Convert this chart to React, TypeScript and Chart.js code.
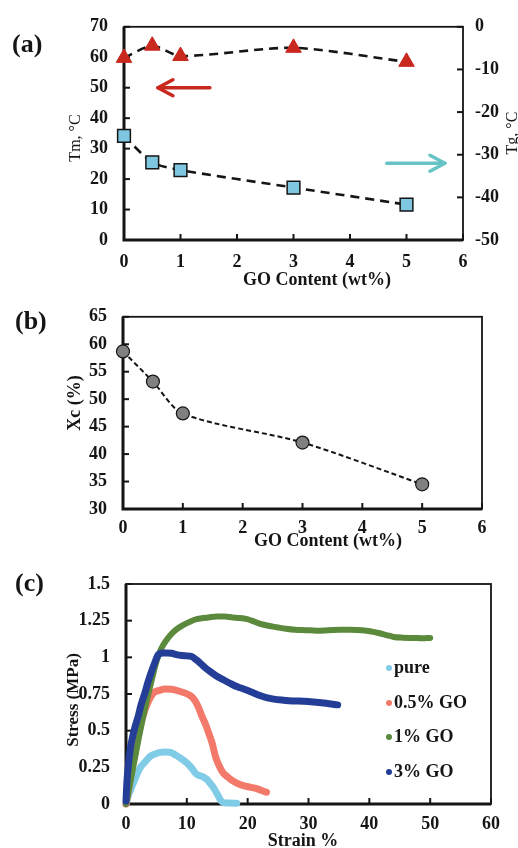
import React, { useEffect, useRef } from "react";
import { Chart, registerables } from "chart.js";

Chart.register(...registerables);

// ---------------- data ----------------
const goContent = [0, 0.5, 1, 3, 5];
const tmValues = [59.8, 63.8, 60.4, 63.1, 58.5];
const tgValues = [-25.6, -31.8, -33.6, -37.7, -41.7];
const xcValues = [58.7, 53.2, 47.4, 42.1, 34.5];

const pureStrain = [0, 0.5, 1.2, 2.3, 3.2, 4.0, 5.0, 5.6, 6.5, 7.3, 8.0, 8.9, 9.7, 10.3, 11.0, 11.4, 12.0, 12.7, 13.3, 13.8, 14.4, 14.9, 15.3, 15.7, 16.2, 17.0, 18.2];
const pureStress = [0, 0.07, 0.143, 0.245, 0.29, 0.325, 0.345, 0.352, 0.355, 0.352, 0.338, 0.314, 0.29, 0.268, 0.235, 0.211, 0.195, 0.184, 0.168, 0.143, 0.11, 0.075, 0.045, 0.018, 0.008, 0.006, 0.005];

const go05Strain = [0, 0.3, 0.7, 1.2, 1.8, 2.4, 3.1, 3.8, 4.5, 5.5, 6.5, 7.5, 8.3, 9.3, 10.3, 10.9, 11.4, 12.0, 12.5, 13.1, 13.6, 14.2, 14.7, 15.1, 15.5, 16.0, 16.6, 17.3, 18.2, 19.3, 20.4, 21.5, 22.3, 23.1];
const go05Stress = [0, 0.07, 0.17, 0.29, 0.42, 0.54, 0.64, 0.71, 0.757, 0.775, 0.784, 0.782, 0.775, 0.762, 0.745, 0.728, 0.7, 0.65, 0.597, 0.54, 0.484, 0.41, 0.325, 0.28, 0.245, 0.21, 0.188, 0.165, 0.143, 0.125, 0.115, 0.105, 0.092, 0.08];

const go1Strain = [0, 0.4, 0.9, 1.5, 2.1, 2.8, 3.5, 4.2, 5.0, 5.8, 6.7, 7.6, 8.6, 9.6, 10.6, 11.6, 12.7, 13.8, 15.0, 16.2, 17.5, 18.7, 19.9, 21.0, 22.1, 23.4, 24.8, 26.3, 27.8, 29.5, 31.4, 33.3, 35.2, 37.0, 38.8, 40.3, 41.5, 42.8, 44.0, 45.5, 47.3, 48.8, 50.0];
const go1Stress = [0, 0.08, 0.19, 0.32, 0.45, 0.59, 0.72, 0.84, 0.97, 1.06, 1.12, 1.165, 1.2, 1.225, 1.245, 1.26, 1.268, 1.274, 1.278, 1.278, 1.272, 1.268, 1.26, 1.245, 1.228, 1.215, 1.205, 1.195, 1.188, 1.185, 1.182, 1.185, 1.188, 1.188, 1.184, 1.176, 1.166, 1.152, 1.139, 1.134, 1.132, 1.13, 1.132];

const go3Strain = [0, 0.11, 0.22, 0.38, 0.55, 0.77, 1.1, 1.5, 2.0, 2.5, 3.1, 3.6, 4.2, 4.7, 5.3, 6.0, 6.7, 7.5, 8.3, 9.2, 10.0, 10.8, 11.5, 12.2, 13.0, 13.8, 14.8, 16.0, 17.0, 17.7, 18.8, 19.9, 21.0, 22.0, 23.1, 24.3, 25.9, 27.5, 29.2, 30.8, 32.5, 34.0, 34.8];
const go3Stress = [0.02, 0.12, 0.19, 0.256, 0.325, 0.393, 0.46, 0.529, 0.597, 0.68, 0.757, 0.83, 0.904, 0.96, 1.018, 1.03, 1.03, 1.028, 1.018, 1.012, 1.01, 1.006, 0.985, 0.961, 0.93, 0.904, 0.875, 0.847, 0.825, 0.81, 0.792, 0.775, 0.757, 0.74, 0.725, 0.715, 0.708, 0.703, 0.7, 0.695, 0.688, 0.68, 0.676];

const seriesLabels = ["pure", "0.5% GO", "1% GO", "3% GO"];
const stressTickLabels = ["0", "0.25", "0.5", "0.75", "1", "1.25", "1.5"];

// arrows in panel (a), in data units
const tmArrow = { from: 1.52, to: 0.6, y: 50, axis: "y" };
const tgArrow = { from: 4.65, to: 5.68, y: -32, axis: "y2" };

// ---------------- styling helpers ----------------
const SERIF = "'Liberation Serif', 'Times New Roman', serif";
const INK = "#151515";
const tickFont = { family: SERIF, size: 18, weight: "bold" as const };

type TextSpec = {
  text: string;
  x: number;
  y: number;
  size: number;
  bold?: boolean;
  rotate?: boolean;
  align?: CanvasTextAlign;
};

type ArrowSpec = { from: number; to: number; y: number; axis: string; color: string };

function makeDecor(cfg: {
  texts: TextSpec[];
  yAxes: { id: string; side: "left" | "right" }[];
  arrows?: ArrowSpec[];
  legend?: { x: number; ys: number[] };
}) {
  return {
    id: "decor",
    beforeDatasetsDraw(chart: any) {
      const { ctx, chartArea: a } = chart;
      ctx.save();
      ctx.strokeStyle = INK;
      ctx.lineWidth = 1.8;
      ctx.strokeRect(a.left, a.top, a.right - a.left, a.bottom - a.top);
      ctx.lineWidth = 3;
      ctx.beginPath();
      ctx.moveTo(a.left, a.top);
      ctx.lineTo(a.left, a.bottom);
      ctx.lineTo(a.right, a.bottom);
      ctx.stroke();
      ctx.lineWidth = 2;
      const xs = chart.scales.x;
      xs.ticks.forEach((t: any) => {
        const p = xs.getPixelForValue(t.value);
        ctx.beginPath();
        ctx.moveTo(p, a.bottom);
        ctx.lineTo(p, a.bottom - 6);
        ctx.stroke();
      });
      cfg.yAxes.forEach(({ id, side }) => {
        const s = chart.scales[id];
        s.ticks.forEach((t: any) => {
          const p = s.getPixelForValue(t.value);
          const x0 = side === "left" ? a.left : a.right;
          const x1 = side === "left" ? a.left + 6 : a.right - 6;
          ctx.beginPath();
          ctx.moveTo(x0, p);
          ctx.lineTo(x1, p);
          ctx.stroke();
        });
      });
      ctx.restore();
    },
    afterDraw(chart: any) {
      const { ctx } = chart;
      ctx.save();
      ctx.fillStyle = INK;
      cfg.texts.forEach((t) => {
        ctx.save();
        ctx.font = `${t.bold ? "bold " : ""}${t.size}px ${SERIF}`;
        ctx.textBaseline = "middle";
        ctx.textAlign = t.align || "center";
        ctx.translate(t.x, t.y);
        if (t.rotate) ctx.rotate(-Math.PI / 2);
        ctx.fillText(t.text, 0, 0);
        ctx.restore();
      });
      (cfg.arrows || []).forEach((ar) => {
        const xs = chart.scales.x;
        const ys = chart.scales[ar.axis];
        const x0 = xs.getPixelForValue(ar.from);
        const x1 = xs.getPixelForValue(ar.to);
        const y = ys.getPixelForValue(ar.y);
        const dir = x1 > x0 ? 1 : -1;
        ctx.strokeStyle = ar.color;
        ctx.lineWidth = 3.5;
        ctx.lineCap = "round";
        ctx.lineJoin = "round";
        ctx.beginPath();
        ctx.moveTo(x0, y);
        ctx.lineTo(x1, y);
        ctx.stroke();
        ctx.beginPath();
        ctx.moveTo(x1 - dir * 15, y - 8);
        ctx.lineTo(x1, y);
        ctx.lineTo(x1 - dir * 15, y + 8);
        ctx.stroke();
      });
      if (cfg.legend) {
        const lg = cfg.legend;
        chart.data.datasets.forEach((ds: any, i: number) => {
          const y = lg.ys[i];
          ctx.fillStyle = ds.borderColor;
          ctx.beginPath();
          ctx.arc(lg.x, y, 3, 0, Math.PI * 2);
          ctx.fill();
          ctx.fillStyle = INK;
          ctx.font = `bold 18px ${SERIF}`;
          ctx.textAlign = "left";
          ctx.textBaseline = "middle";
          ctx.fillText(ds.label, lg.x + 5, y);
        });
      }
      ctx.restore();
    },
  };
}

const baseOptions = {
  responsive: false,
  animation: false as const,
  events: [] as any[],
  plugins: { legend: { display: false }, tooltip: { enabled: false } },
};

function axis(extra: any) {
  return {
    type: "linear",
    grid: { display: false, drawTicks: false, tickLength: 0 },
    border: { display: false },
    ...extra,
    ticks: { font: tickFont, color: INK, ...(extra.ticks || {}) },
  };
}

function toXY(xs: number[], ys: number[]) {
  return xs.map((x, i) => ({ x, y: ys[i] }));
}

// ---------------- panel configs ----------------
function configA(): any {
  return {
    type: "line",
    data: {
      datasets: [
        {
          label: "Tm",
          data: toXY(goContent, tmValues),
          yAxisID: "y",
          borderColor: INK,
          borderWidth: 2.6,
          borderDash: [9, 6],
          tension: 0.25,
          pointStyle: "triangle",
          pointRadius: 9,
          pointBackgroundColor: "#c8281e",
          pointBorderColor: "#c8281e",
          pointBorderWidth: 1,
          clip: false,
        },
        {
          label: "Tg",
          data: toXY(goContent, tgValues),
          yAxisID: "y2",
          borderColor: INK,
          borderWidth: 2.6,
          borderDash: [9, 6],
          tension: 0.25,
          pointStyle: "rect",
          pointRadius: 9,
          pointBackgroundColor: "#7fc6e0",
          pointBorderColor: INK,
          pointBorderWidth: 1.5,
          clip: false,
        },
      ],
    },
    options: {
      ...baseOptions,
      layout: { padding: { top: 20, left: 0, right: 0, bottom: 0 } },
      scales: {
        x: axis({ min: 0, max: 6, ticks: { stepSize: 1, padding: 12 }, afterFit: (s: any) => { s.height = 50; } }),
        y: axis({ position: "left", min: 0, max: 70, ticks: { stepSize: 10, padding: 16 }, afterFit: (s: any) => { s.width = 124; } }),
        y2: axis({ position: "right", min: -50, max: 0, ticks: { stepSize: 10, padding: 12 }, afterFit: (s: any) => { s.width = 55; } }),
      },
    },
    plugins: [
      makeDecor({
        yAxes: [{ id: "y", side: "left" }, { id: "y2", side: "right" }],
        texts: [
          { text: "(a)", x: 12, y: 45, size: 26, bold: true, align: "left" },
          { text: "GO Content (wt%)", x: 317, y: 280, size: 18, bold: true },
          { text: "Tm, °C", x: 76, y: 138, size: 16, rotate: true },
          { text: "Tg, °C", x: 513, y: 133, size: 16, rotate: true },
        ],
        arrows: [
          { ...tmArrow, color: "#c8281e" },
          { ...tgArrow, color: "#66c4c6" },
        ],
      }),
    ],
  };
}

function configB(): any {
  return {
    type: "line",
    data: {
      datasets: [
        {
          label: "Xc",
          data: toXY(goContent, xcValues),
          borderColor: INK,
          borderWidth: 2,
          borderDash: [5, 3],
          tension: 0.3,
          pointStyle: "circle",
          pointRadius: 6.5,
          pointBackgroundColor: "#808080",
          pointBorderColor: INK,
          pointBorderWidth: 1.2,
          clip: false,
        },
      ],
    },
    options: {
      ...baseOptions,
      layout: { padding: { top: 20, left: 0, right: 36, bottom: 0 } },
      scales: {
        x: axis({ min: 0, max: 6, ticks: { stepSize: 1, padding: 9 }, afterFit: (s: any) => { s.height = 41; } }),
        y: axis({ position: "left", min: 30, max: 65, ticks: { stepSize: 5, padding: 16 }, afterFit: (s: any) => { s.width = 123; } }),
      },
    },
    plugins: [
      makeDecor({
        yAxes: [{ id: "y", side: "left" }],
        texts: [
          { text: "(b)", x: 15, y: 32, size: 26, bold: true, align: "left" },
          { text: "GO Content (wt%)", x: 328, y: 251, size: 18, bold: true },
          { text: "Xc (%)", x: 75.5, y: 113, size: 18, bold: true, rotate: true },
        ],
      }),
    ],
  };
}

function curve(label: string, xs: number[], ys: number[], color: string, order: number, width: number) {
  return {
    label,
    data: toXY(xs, ys),
    borderColor: color,
    backgroundColor: color,
    borderWidth: width,
    borderCapStyle: "round",
    borderJoinStyle: "round",
    cubicInterpolationMode: "monotone",
    pointRadius: 0,
    order,
    clip: false,
  };
}

function configC(): any {
  return {
    type: "line",
    data: {
      datasets: [
        curve(seriesLabels[0], pureStrain, pureStress, "#80cce6", 3, 7),
        curve(seriesLabels[1], go05Strain, go05Stress, "#f37a6a", 2, 7),
        curve(seriesLabels[2], go1Strain, go1Stress, "#5b8a3c", 1, 6),
        curve(seriesLabels[3], go3Strain, go3Stress, "#243e98", 0, 7),
      ],
    },
    options: {
      ...baseOptions,
      layout: { padding: { top: 34, left: 0, right: 27, bottom: 0 } },
      scales: {
        x: axis({ min: 0, max: 60, ticks: { stepSize: 10, padding: 10 }, afterFit: (s: any) => { s.height = 44; } }),
        y: axis({
          position: "left",
          min: 0,
          max: 1.5,
          ticks: { stepSize: 0.25, padding: 16, callback: (_v: any, i: number) => stressTickLabels[i] },
          afterFit: (s: any) => { s.width = 126; },
        }),
      },
    },
    plugins: [
      makeDecor({
        yAxes: [{ id: "y", side: "left" }],
        texts: [
          { text: "(c)", x: 15, y: 34, size: 26, bold: true, align: "left" },
          { text: "Strain %", x: 303, y: 291, size: 18, bold: true },
          { text: "Stress (MPa)", x: 73.5, y: 150, size: 17, bold: true, rotate: true },
        ],
        legend: { x: 389, ys: [118, 153, 187, 222] },
      }),
    ],
  };
}

function Panel({ top, height, build }: { top: number; height: number; build: () => any }) {
  const ref = useRef<HTMLCanvasElement>(null);
  useEffect(() => {
    const chart = new Chart(ref.current as HTMLCanvasElement, build());
    return () => chart.destroy();
  }, []);
  return (
    <canvas
      ref={ref}
      width={518}
      height={height}
      style={{ position: "absolute", left: 0, top, width: 518, height }}
    />
  );
}

export default function App() {
  return (
    <div style={{ position: "fixed", left: 0, top: 0, width: 518, height: 848, overflow: "hidden", background: "#fff" }}>
      <Panel top={0} height={290} build={configA} />
      <Panel top={290} height={260} build={configB} />
      <Panel top={550} height={298} build={configC} />
    </div>
  );
}
